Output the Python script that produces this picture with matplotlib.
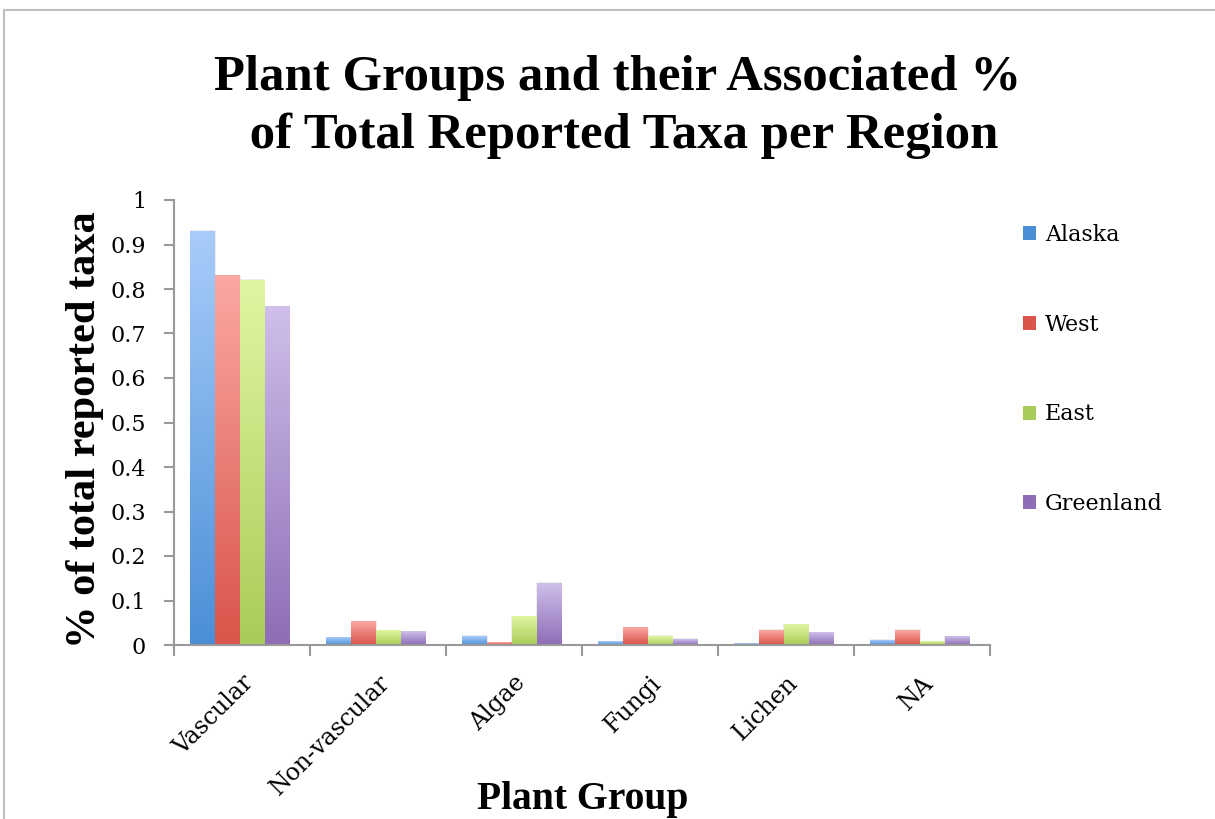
import numpy as np
import matplotlib
matplotlib.use("Agg")
import matplotlib.pyplot as plt
from matplotlib.colors import LinearSegmentedColormap
from matplotlib.patches import Rectangle, Patch

groups = ["Vascular", "Non-vascular", "Algae", "Fungi", "Lichen", "NA"]
regions = ["Alaska", "West", "East", "Greenland"]
alaska = [0.93, 0.016, 0.020, 0.007, 0.003, 0.011]
west = [0.83, 0.052, 0.005, 0.039, 0.033, 0.033]
east = [0.82, 0.032, 0.063, 0.020, 0.045, 0.007]
greenland = [0.76, 0.030, 0.139, 0.013, 0.027, 0.018]
series = [alaska, west, east, greenland]

# (bottom colour, top colour) for each region's gradient fill
shades = [("#4a8fd6", "#a8ccfb"), ("#d9544a", "#fba8a2"),
          ("#a9cc58", "#e0f6a2"), ("#8e6db6", "#cfbfea")]

bold = "Liberation Serif"
body = "DejaVu Serif"
fig = plt.figure(figsize=(12.15, 8.19), dpi=100)
fig.patches.append(Rectangle((4 / 1215, -0.02), 1.05, 1 - 10 / 819 + 0.02,
                             transform=fig.transFigure, fill=False,
                             edgecolor="#c0c0c0", lw=1.5))
ax = fig.add_axes([174 / 1215, 1 - 645 / 819, 816 / 1215, 445 / 819])

x = np.arange(len(groups))
w = 0.182
grad = np.linspace(0, 1, 256).reshape(-1, 1)
for i, (vals, (c0, c1)) in enumerate(zip(series, shades)):
    cmap = LinearSegmentedColormap.from_list(regions[i], [c0, c1])
    offs = x - 1.5 * w + i * w - 0.015
    bars = ax.bar(offs, vals, width=w, color="none", edgecolor="none")
    for b in bars:
        bx, bw, bh = b.get_x(), b.get_width(), b.get_height()
        # soft shadow around each bar
        ax.add_patch(Rectangle((bx - 0.004, 0), bw + 0.008, bh + 0.002,
                               facecolor="#000000", alpha=0.07, lw=0, zorder=1))
        ax.imshow(grad, extent=[bx, bx + bw, 0, bh], origin="lower",
                  aspect="auto", cmap=cmap, zorder=2)

ax.set_xlim(-0.5, len(groups) - 0.5)
ax.set_ylim(0, 1)
ax.set_yticks(np.arange(0, 1.01, 0.1))
ax.set_yticklabels(["0", "0.1", "0.2", "0.3", "0.4", "0.5", "0.6", "0.7",
                    "0.8", "0.9", "1"], fontfamily=body, fontsize=16)
ax.set_xticks(np.arange(-0.5, len(groups), 1.0), minor=False)
ax.set_xticklabels([])
ax.set_xticks(x, minor=True)
ax.set_xticklabels(groups, minor=True, rotation=45, ha="right",
                   rotation_mode="anchor", fontfamily=body, fontsize=17)
ax.tick_params(axis="x", which="minor", length=0, pad=19)
ax.tick_params(axis="x", which="major", length=8, width=1.5, color="#9a9a9a",
               direction="out")
ax.tick_params(axis="y", length=7, width=1.5, color="#9a9a9a", pad=13)
for s in ["top", "right"]:
    ax.spines[s].set_visible(False)
for s in ["left", "bottom"]:
    ax.spines[s].set_color("#9a9a9a")
    ax.spines[s].set_linewidth(1.5)

fig.text(85 / 1215, 1 - 430 / 819, "% of total reported taxa", fontfamily=bold,
         fontsize=30.5, fontweight="bold", rotation=90, ha="center",
         va="center")
fig.text(583 / 1215, 1 - 800 / 819, "Plant Group", fontfamily=bold,
         fontsize=28.5, fontweight="bold", ha="center", va="center")
fig.text(0.508, 1 - 107 / 819, "Plant Groups and their Associated %\n of Total Reported Taxa per Region",
         fontfamily=bold, fontsize=36.5, fontweight="bold", ha="center",
         va="center", linespacing=1.31)

handles = [Patch(facecolor=c0) for c0, _ in shades]
leg = fig.legend(handles, regions, loc="upper left",
                 bbox_to_anchor=(1014 / 1215, 1 - 215 / 819), frameon=False,
                 prop={"family": body, "size": 16}, labelspacing=3.05,
                 handlelength=0.6, handleheight=0.6, handletextpad=0.4,
                 borderaxespad=0)

fig.savefig("out.png", dpi=100)
